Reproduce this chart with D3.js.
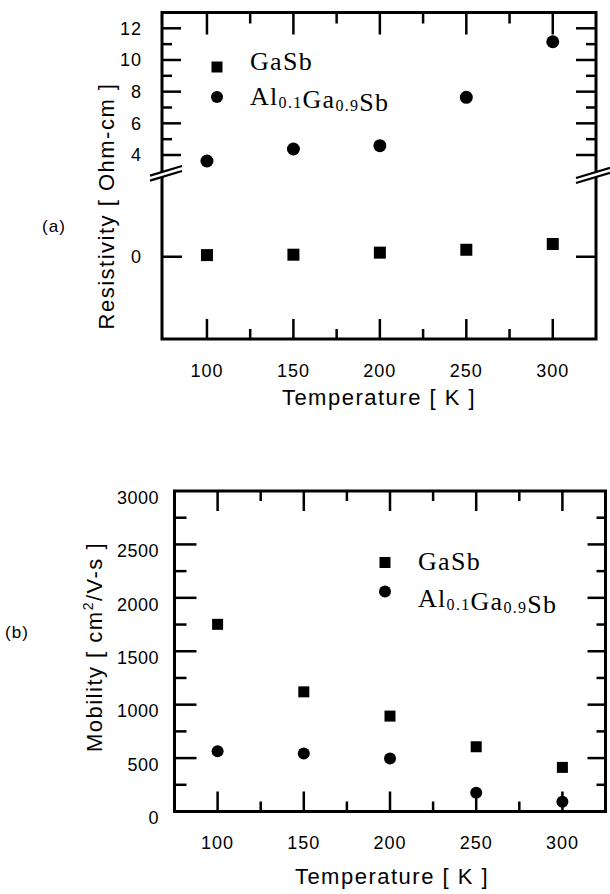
<!DOCTYPE html>
<html>
<head>
<meta charset="utf-8">
<script src="https://cdn.jsdelivr.net/npm/d3@7"></script>
<style>
  body { margin: 0; background: #fff; }
</style>
</head>
<body>
<div id="vis"></div>
<script>
const width = 610;
const height = 894;

// data
const temps = [100, 150, 200, 250, 300];
const gasbRes = [0.02, 0.025, 0.05, 0.085, 0.155];
const alRes = [3.62, 4.38, 4.59, 7.64, 11.15];
const gasbMob = [1752, 1120, 893, 606, 413];
const alMob = [565, 544, 497, 176, 92];

const xTicks = [100, 150, 200, 250, 300];
const xMinor = [125, 175, 225, 275];
const resUpperTicks = [4, 6, 8, 10, 12];
const resUpperMinor = [5, 7, 9, 11];
const resLowerTicks = [0];
const mobTicks = [0, 500, 1000, 1500, 2000, 2500, 3000];
const mobMinor = [250, 750, 1250, 1750, 2250, 2750];

const sans = "'Liberation Sans', Arial, sans-serif";
const serif = "'Liberation Serif', 'Times New Roman', serif";
const ink = "#000";

const svg = d3.select("#vis")
  .append("svg")
  .attr("width", width)
  .attr("height", height);

// inward tick marks as thin filled bars (x ticks: vertical bars, y ticks: horizontal bars)
function xTickBars(g, scale, vals, y0, len) {
  g.selectAll(null)
    .data(vals)
    .join("rect")
    .attr("x", d => scale(d) - 1.25)
    .attr("y", len > 0 ? y0 : y0 + len)
    .attr("width", 2.5)
    .attr("height", Math.abs(len))
    .attr("fill", ink);
}

function yTickBars(g, scale, vals, x0, len) {
  g.selectAll(null)
    .data(vals)
    .join("rect")
    .attr("x", len > 0 ? x0 : x0 + len)
    .attr("y", d => scale(d) - 1.25)
    .attr("width", Math.abs(len))
    .attr("height", 2.5)
    .attr("fill", ink);
}

function legendMark(g, x, y, shape) {
  if (shape === "square") {
    g.append("rect").attr("x", x - 5.5).attr("y", y - 5.5)
      .attr("width", 11).attr("height", 11).attr("fill", ink);
  } else {
    g.append("circle").attr("cx", x).attr("cy", y).attr("r", 6).attr("fill", ink);
  }
}

function legendText(g, x, y, parts) {
  const t = g.append("text")
    .attr("x", x).attr("y", y)
    .attr("fill", ink)
    .attr("font-family", serif)
    .attr("font-size", "26px")
    .attr("letter-spacing", "1.3px");
  parts.forEach(p => {
    if (p.sub) {
      t.append("tspan").attr("font-size", "16px").attr("dy", 3).text(p.t);
      t.append("tspan").attr("dy", -3).text("");
    } else {
      t.append("tspan").text(p.t);
    }
  });
}

const alParts = [{t: "Al"}, {t: "0.1", sub: true}, {t: "Ga"}, {t: "0.9", sub: true}, {t: "Sb"}];

// ---------- panel (a) ----------
const a = svg.append("g");
const aLeft = 162, aRight = 596, aTop = 12.5, aBottom = 339, breakY = 174.5;

const xA = d3.scaleLinear().domain([74, 325]).range([aLeft, aRight]);
const yUp = d3.scaleLinear().domain([4, 12]).range([155, 28.3]);
const yLow = d3.scaleLinear().domain([-1, 1]).range([aBottom, breakY]);

a.append("rect")
  .attr("x", aLeft).attr("y", aTop)
  .attr("width", aRight - aLeft).attr("height", aBottom - aTop)
  .attr("fill", "none").attr("stroke", ink).attr("stroke-width", 3);

a.selectAll(".sq")
  .data(temps.map((t, i) => ({t, v: gasbRes[i]})))
  .enter().append("rect")
  .attr("x", d => xA(d.t) - 6).attr("y", d => yLow(d.v) - 6)
  .attr("width", 12).attr("height", 12).attr("fill", ink);

a.selectAll(".ci")
  .data(temps.map((t, i) => ({t, v: alRes[i]})))
  .enter().append("circle")
  .attr("cx", d => xA(d.t)).attr("cy", d => yUp(d.v))
  .attr("r", 6.5).attr("fill", ink);

a.selectAll(".xl")
  .data(xTicks).enter().append("text")
  .attr("x", d => xA(d)).attr("y", 377)
  .attr("text-anchor", "middle").attr("fill", ink)
  .attr("font-family", sans).attr("font-size", "18px").attr("letter-spacing", "1px")
  .text(d => d);

a.selectAll(".yl")
  .data(resUpperTicks.map(v => ({v, y: yUp(v)})).concat(resLowerTicks.map(v => ({v, y: yLow(v)}))))
  .enter().append("text")
  .attr("x", 142).attr("y", d => d.y).attr("dy", "0.35em")
  .attr("text-anchor", "end").attr("fill", ink)
  .attr("font-family", sans).attr("font-size", "18px").attr("letter-spacing", "1px")
  .text(d => d.v);

a.append("text")
  .attr("x", 379).attr("y", 405)
  .attr("text-anchor", "middle").attr("fill", ink)
  .attr("font-family", sans).attr("font-size", "22px").attr("letter-spacing", "1.5px")
  .text("Temperature [ K ]");

a.append("text")
  .attr("transform", "translate(114,206) rotate(-90)")
  .attr("text-anchor", "middle").attr("fill", ink)
  .attr("font-family", sans).attr("font-size", "22px").attr("letter-spacing", "1.5px")
  .text("Resistivity [ Ohm-cm ]");

a.append("text")
  .attr("x", 54).attr("y", 232)
  .attr("text-anchor", "middle").attr("fill", ink)
  .attr("font-family", sans).attr("font-size", "17px").attr("letter-spacing", "1px")
  .text("(a)");

legendMark(a, 217, 67, "square");
legendMark(a, 217, 97, "circle");
legendText(a, 250, 70, [{t: "GaSb"}]);
legendText(a, 250, 104.5, alParts);

// ---------- panel (b) ----------
const b = svg.append("g");
const bLeft = 174.5, bRight = 605.5, bTop = 491, bBottom = 811.5;

const xB = d3.scaleLinear().domain([75, 325]).range([bLeft, bRight]);
const yB = d3.scaleLinear().domain([0, 3000]).range([bBottom, bTop]);

b.append("rect")
  .attr("x", bLeft).attr("y", bTop)
  .attr("width", bRight - bLeft).attr("height", bBottom - bTop)
  .attr("fill", "none").attr("stroke", ink).attr("stroke-width", 3);

b.selectAll(".sq")
  .data(temps.map((t, i) => ({t, v: gasbMob[i]})))
  .enter().append("rect")
  .attr("x", d => xB(d.t) - 5.5).attr("y", d => yB(d.v) - 5.5)
  .attr("width", 11).attr("height", 11).attr("fill", ink);

b.selectAll(".ci")
  .data(temps.map((t, i) => ({t, v: alMob[i]})))
  .enter().append("circle")
  .attr("cx", d => xB(d.t)).attr("cy", d => yB(d.v))
  .attr("r", 6).attr("fill", ink);

b.selectAll(".xl")
  .data(xTicks).enter().append("text")
  .attr("x", d => xB(d)).attr("y", 849)
  .attr("text-anchor", "middle").attr("fill", ink)
  .attr("font-family", sans).attr("font-size", "18px").attr("letter-spacing", "1px")
  .text(d => d);

b.selectAll(".yl")
  .data(mobTicks).enter().append("text")
  .attr("x", 159).attr("y", d => yB(d) + 6.5).attr("dy", "0.35em")
  .attr("text-anchor", "end").attr("fill", ink)
  .attr("font-family", sans).attr("font-size", "18px").attr("letter-spacing", "0.5px")
  .text(d => d);

b.append("text")
  .attr("x", 392).attr("y", 884)
  .attr("text-anchor", "middle").attr("fill", ink)
  .attr("font-family", sans).attr("font-size", "22px").attr("letter-spacing", "1.5px")
  .text("Temperature [ K ]");

const mt = b.append("text")
  .attr("transform", "translate(102,647) rotate(-90)")
  .attr("text-anchor", "middle").attr("fill", ink)
  .attr("font-family", sans).attr("font-size", "22px").attr("letter-spacing", "1.5px");
mt.append("tspan").text("Mobility [ cm");
mt.append("tspan").attr("font-size", "14px").attr("dy", -9).text("2");
mt.append("tspan").attr("dy", 9).text("/V-s ]");

b.append("text")
  .attr("x", 17).attr("y", 638)
  .attr("text-anchor", "middle").attr("fill", ink)
  .attr("font-family", sans).attr("font-size", "17px").attr("letter-spacing", "1px")
  .text("(b)");

legendMark(b, 385, 562.5, "square");
legendMark(b, 385, 591.5, "circle");
legendText(b, 418, 569.5, [{t: "GaSb"}]);
legendText(b, 418, 606.5, alParts);

// ---------- tick marks, drawn last ----------
const ta = svg.append("g");
xTickBars(ta, xA, xTicks, aTop, 22);
xTickBars(ta, xA, xMinor, aTop, 11);
xTickBars(ta, xA, xTicks, aBottom, -20);
xTickBars(ta, xA, xMinor, aBottom, -10);
yTickBars(ta, yUp, resUpperTicks, aLeft, 19);
yTickBars(ta, yUp, resUpperMinor, aLeft, 10);
yTickBars(ta, yUp, resUpperTicks, aRight, -20);
yTickBars(ta, yUp, resUpperMinor, aRight, -10);
yTickBars(ta, yLow, resLowerTicks, aLeft, 20);
yTickBars(ta, yLow, resLowerTicks, aRight, -20);

const mobInner = mobTicks.filter(v => v > 0 && v < 3000);
const tb = svg.append("g");
xTickBars(tb, xB, xTicks, bTop, 20);
xTickBars(tb, xB, xMinor, bTop, 10);
xTickBars(tb, xB, xTicks, bBottom, -20);
xTickBars(tb, xB, xMinor, bBottom, -10);
yTickBars(tb, yB, mobInner, bLeft, 22);
yTickBars(tb, yB, mobMinor, bLeft, 12);
yTickBars(tb, yB, mobInner, bRight, -18);
yTickBars(tb, yB, mobMinor, bRight, -9);

// axis breaks on panel (a), over the frame
[[aLeft, -12, 20], [aRight, -20, 14]].forEach(([x0, l, r]) => {
  const s = 0.3;
  const y = x => breakY - (x - x0) * s;
  ta.append("polygon")
    .attr("points", [[x0 + l, y(x0 + l) + 2.5], [x0 + r, y(x0 + r) + 2.5],
      [x0 + r, y(x0 + r) - 2.5], [x0 + l, y(x0 + l) - 2.5]].map(p => p.join(",")).join(" "))
    .attr("fill", "#fff");
  [-2.5, 2.5].forEach(o => {
    ta.append("line")
      .attr("x1", x0 + l).attr("y1", y(x0 + l) + o)
      .attr("x2", x0 + r).attr("y2", y(x0 + r) + o)
      .attr("stroke", ink).attr("stroke-width", 2.2);
  });
});
</script>
</body>
</html>
